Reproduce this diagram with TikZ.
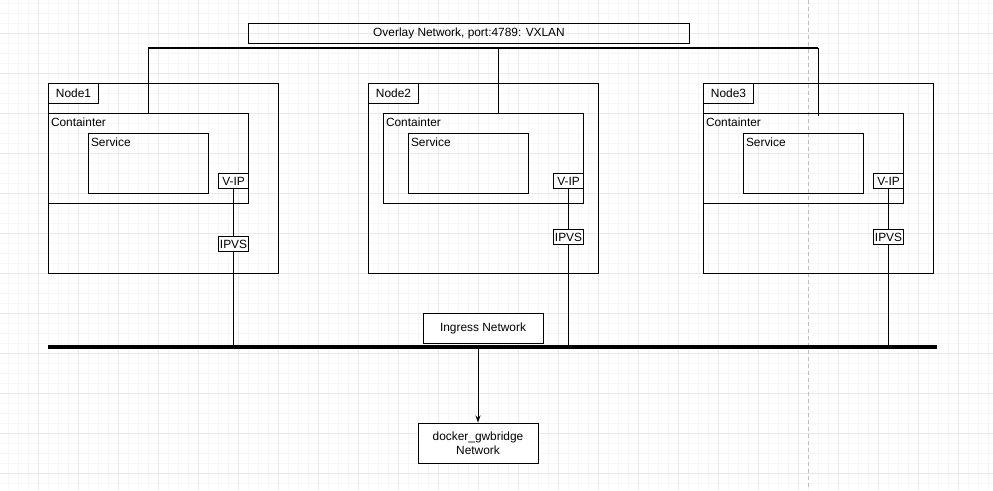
\documentclass[tikz,border=0pt]{standalone}
\usepackage{fontspec}
\setmainfont{Liberation Sans}
\usepackage{tikz}
\usetikzlibrary{positioning,calc,arrows.meta}
\definecolor{gridminor}{rgb}{0.965, 0.965, 0.965}
\definecolor{gridmajor}{rgb}{0.91, 0.91, 0.91}
\definecolor{pagebreak}{rgb}{0.75, 0.75, 0.75}
\tikzset{
	plain/.style={font=\fontsize{11.9}{14}\selectfont},
	hostbox/.style={draw,line width=1pt,anchor=north west,minimum width=230pt,minimum height=190pt,inner sep=0pt},
	tagbox/.style={draw,line width=1pt,anchor=north west,minimum width=50pt,minimum height=20pt,inner sep=0pt,plain},
	ctrbox/.style={draw,line width=1pt,anchor=north west,minimum width=200pt,minimum height=90pt,inner sep=0pt},
	svcbox/.style={draw,line width=1pt,anchor=north west,minimum width=120pt,minimum height=60pt,inner sep=0pt},
	portbox/.style={draw,fill=white,line width=1pt,anchor=north west,minimum width=30pt,minimum height=15pt,inner sep=0pt,plain},
	cornertext/.style={anchor=north west,inner xsep=2.5pt,inner ysep=4.5pt,plain},
	netbox/.style={draw,fill=white,line width=1pt,minimum width=120pt,inner sep=0pt,align=center,plain},
}

\begin{document}
\begin{tikzpicture}[x=1pt,y=-1pt,line width=1pt]
	\useasboundingbox (0,0) rectangle (993,490);
	
	% grid
	\foreach \x in {8,18,...,988} \draw[gridminor] (\x,0) -- (\x,490);
	\foreach \y in {3,13,...,483} \draw[gridminor] (0,\y) -- (993,\y);
	\foreach \x in {38,78,...,958} \draw[gridmajor] (\x,0) -- (\x,490);
	\foreach \y in {33,73,...,473} \draw[gridmajor] (0,\y) -- (993,\y);
	\draw[pagebreak,dash pattern=on 4pt off 3pt] (808,0) -- (808,490);
	
	\node[draw,anchor=north west,minimum width=441pt,minimum height=20pt,inner sep=0pt,plain] (Overlay) at (248,23) {Overlay Network, port:4789: VXLAN};
	
	% Node1
	\node[hostbox] (H1) at (48,83) {};
	\node[tagbox] (T1) at (48,83) {Node1};
	\node[ctrbox,label={[cornertext]north west:Containter}] (C1) at (48,113) {};
	\node[svcbox,label={[cornertext]north west:Service}] (S1) at (88,133) {};
	\node[portbox] (V1) at (218,173) {V-IP};
	\node[portbox] (I1) at (218,236) {IPVS};
	
	% Node2
	\node[hostbox] (H2) at (368,83) {};
	\node[tagbox] (T2) at (368,83) {Node2};
	\node[ctrbox,label={[cornertext]north west:Containter}] (C2) at (383,113) {};
	\node[svcbox,label={[cornertext]north west:Service}] (S2) at (408,133) {};
	\node[portbox] (V2) at (553,173) {V-IP};
	\node[portbox] (I2) at (553,229) {IPVS};
	
	% Node3
	\node[hostbox] (H3) at (703,83) {};
	\node[tagbox] (T3) at (703,83) {Node3};
	\node[ctrbox,label={[cornertext]north west:Containter}] (C3) at (703,113) {};
	\node[svcbox,label={[cornertext]north west:Service}] (S3) at (743,133) {};
	\node[portbox] (V3) at (873,173) {V-IP};
	\node[portbox] (I3) at (873,229) {IPVS};
	
	% overlay line
	\coordinate (OvA) at (148,48);
	\coordinate (OvB) at (498,48);
	\coordinate (OvC) at (818,48);
	\draw[line width=2pt] (OvA) -- (OvC);
	\draw (OvA) -- (OvA |- C1.north);
	\draw (OvB) -- (OvB |- C2.north);
	\draw (OvC) -- ($(OvC |- C3.north)+(0,3)$);
	
	% ingress bus
	\coordinate (BusL) at (48,347);
	\coordinate (BusR) at (937,347);
	\draw[line width=3.5pt] (BusL) -- (BusR);
	\node[netbox,minimum height=30pt] (Ingress) at (483,328) {Ingress Network};
	
	\draw (V1) -- (I1);
	\draw (V2) -- (I2);
	\draw (V3) -- (I3);
	\draw (I1.south) -- (I1.south |- BusL);
	\draw (I2.south) -- (I2.south |- BusL);
	\draw (I3.south) -- (I3.south |- BusL);
	
	\node[netbox,minimum height=40pt] (Bridge) at (478,443) {docker\_gwbridge\\Network};
	%\draw[-latex] (Ingress) -- (Bridge);
	\draw[-{Stealth[length=7pt,width=5pt]}] (Bridge.north |- BusL) -- (Bridge.north);
\end{tikzpicture}
\end{document}
